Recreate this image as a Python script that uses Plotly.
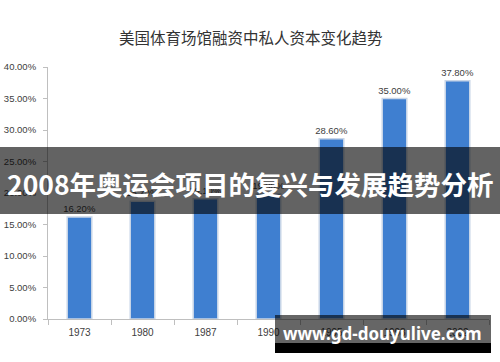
import plotly.graph_objects as go

years = ["1973", "1980", "1987", "1990", "1995", "1998", "2002"]
values = [16.2, 18.7, 19.1, 19.9, 28.6, 35.0, 37.8]
labels = ["16.20%", "18.70%", "19.10%", "19.90%", "28.60%", "35.00%", "37.80%"]
yticks = [0, 5, 10, 15, 20, 25, 30, 35, 40]
ytick_text = ["0.00%", "5.00%", "10.00%", "15.00%", "20.00%", "25.00%", "30.00%", "35.00%", "40.00%"]
title = "美国体育场馆融资中私人资本变化趋势"
banner = "2008年奥运会项目的复兴与发展趋势分析"
watermark = "www.gd-douyulive.com"

font_cjk = "Noto Sans CJK SC, Noto Sans, sans-serif"
font_lat = "Liberation Sans, Arial, sans-serif"

# plot area in pixels: x 48..489, y 67..319
PL, PR, PT, PB = 48, 489, 67, 319
pw, ph = PR - PL, PB - PT

def px(xpx):
    return (xpx - PL) / pw

def py(ypx):
    return (PB - ypx) / ph

fig = go.Figure()
fig.add_trace(go.Bar(
    x=years, y=values, text=labels, textposition="outside",
    constraintext="none",
    textfont=dict(size=9.5, color="#404040", family=font_lat),
    marker=dict(color="#3F7FD0", line=dict(color="#C9D6E8", width=1.5)),
    cliponaxis=False, width=0.39, hoverinfo="skip",
))

fig.update_layout(
    width=500, height=362,
    margin=dict(l=PL, r=500 - PR, t=PT, b=362 - PB, pad=0, autoexpand=False),
    paper_bgcolor="white", plot_bgcolor="white",
    showlegend=False,
    xaxis=dict(
        type="category", showline=True, linecolor="#BFBFBF", linewidth=1,
        ticks="outside", tickson="boundaries", ticklen=5, tickcolor="#BFBFBF",
        ticklabelstandoff=4, automargin=False,
        tickfont=dict(size=10, color="#404040", family=font_lat),
        showgrid=False, zeroline=False, fixedrange=True,
    ),
    yaxis=dict(
        range=[0, 40], tickvals=yticks, ticktext=ytick_text,
        showline=True, linecolor="#BFBFBF", linewidth=1,
        ticks="outside", ticklen=4, tickcolor="#BFBFBF",
        ticklabelstandoff=5, automargin=False,
        tickfont=dict(size=9.5, color="#404040", family=font_lat),
        showgrid=False, zeroline=False, fixedrange=True,
    ),
)

fig.add_annotation(text=title, xref="paper", yref="paper", x=px(251), y=py(37),
                   xanchor="center", yanchor="middle", showarrow=False,
                   font=dict(size=15.5, color="#333333", family=font_cjk))

shapes = [
    dict(type="rect", xref="paper", yref="paper", x0=px(-5), x1=px(505),
         y0=py(214), y1=py(147), fillcolor="rgba(0,0,0,0.61)", line=dict(width=0), layer="above"),
    dict(type="rect", xref="paper", yref="paper", x0=px(275), x1=px(491),
         y0=py(343), y1=py(315), fillcolor="rgba(0,0,0,0.6)", line=dict(width=0), layer="above"),
    dict(type="rect", xref="paper", yref="paper", x0=px(275), x1=px(491),
         y0=py(353), y1=py(343), fillcolor="black", line=dict(width=0), layer="above"),
]
fig.update_layout(shapes=shapes)
fig.add_annotation(text=banner, xref="paper", yref="paper", x=px(250), y=py(183),
                   xanchor="center", yanchor="middle", showarrow=False,
                   font=dict(size=26.5, color="white", family=font_cjk, weight="bold"))
fig.add_annotation(text=watermark, xref="paper", yref="paper", x=px(382), y=py(333),
                   xanchor="center", yanchor="middle", showarrow=False,
                   font=dict(size=17, color="white", family="Noto Sans, Open Sans, sans-serif", weight="bold"))

fig.write_html("out.html", config={"displayModeBar": False},
               post_script="document.body.style.margin='0';document.body.style.padding='0';")
